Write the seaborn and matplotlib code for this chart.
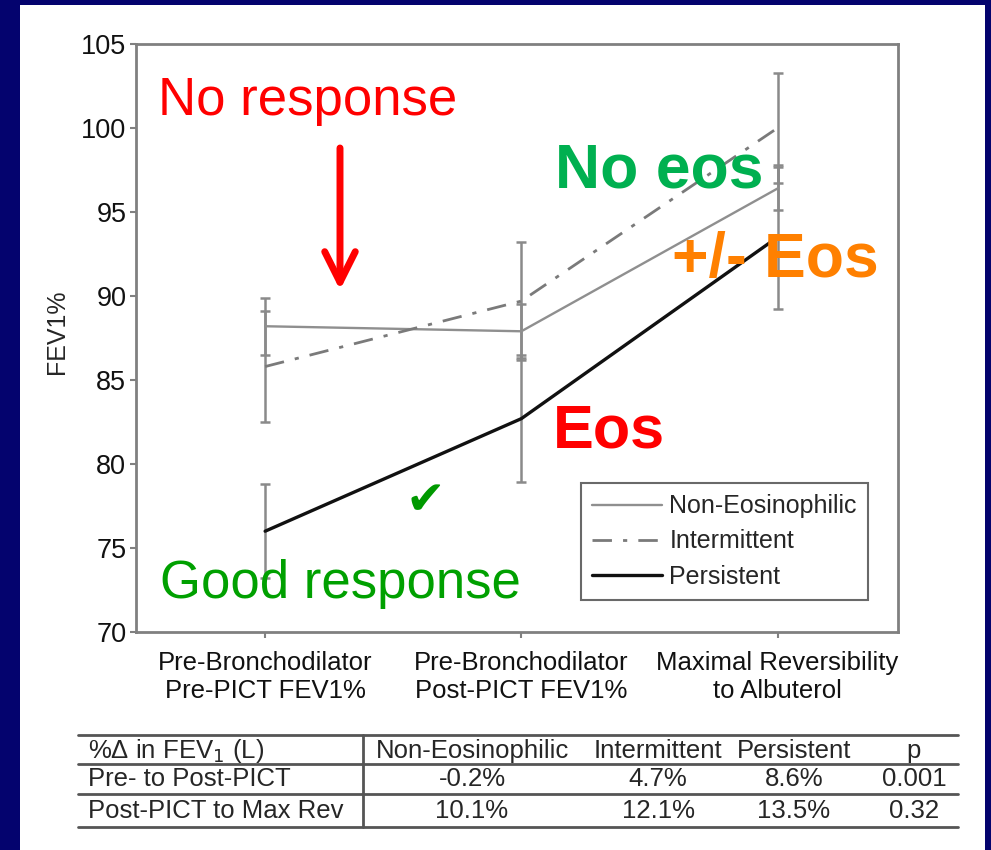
import numpy as np
import pandas as pd
import matplotlib
matplotlib.use("Agg")
import matplotlib.pyplot as plt
from matplotlib.lines import Line2D
from matplotlib.patches import Rectangle
import seaborn as sns

# chart data
categories = ["Pre-Bronchodilator\nPre-PICT FEV1%",
              "Pre-Bronchodilator\nPost-PICT FEV1%",
              "Maximal Reversibility\nto Albuterol"]
groups = ["Non-Eosinophilic", "Intermittent", "Persistent"]
non_eos_mean = [88.2, 87.9, 96.4]
non_eos_err = [1.7, 1.6, 1.3]
intermittent_mean = [85.8, 89.7, 100.0]
intermittent_err = [3.3, 3.5, 3.3]
persistent_mean = [76.0, 82.7, 93.5]
persistent_err = [2.8, 3.8, 4.3]
y_ticks = [70, 75, 80, 85, 90, 95, 100, 105]

# table under the chart
table_header = ["%Δ in FEV$_1$ (L)", "Non-Eosinophilic", "Intermittent", "Persistent", "p"]
table_row_labels = ["Pre- to Post-PICT", "Post-PICT to Max Rev"]
table_non_eos = ["-0.2%", "10.1%"]
table_intermittent = ["4.7%", "12.1%"]
table_persistent = ["8.6%", "13.5%"]
table_p = ["0.001", "0.32"]

W, H = 991, 850


def px(x, y):
    """pixel position -> figure fraction"""
    return x / W, 1 - y / H


sns.set_style("white")
plt.rcParams['font.family'] = ['Liberation Sans', 'DejaVu Sans']

df = pd.DataFrame({
    'pos': list(range(3)) * 3,
    'fev1': non_eos_mean + intermittent_mean + persistent_mean,
    'err': non_eos_err + intermittent_err + persistent_err,
    'group': [g for g in groups for _ in range(3)],
})

fig = plt.figure(figsize=(W / 100, H / 100), dpi=100, facecolor='#04036e')
fig.patches.append(Rectangle(px(20, 850), (985 - 20) / W, (850 - 5) / H,
                             transform=fig.transFigure, facecolor='white',
                             edgecolor='none', zorder=-5))

ax = fig.add_axes([136 / W, 1 - 632 / H, (898 - 136) / W, (632 - 44) / H])
ax.set_zorder(2)
ax.set_facecolor('white')

# error bars first so lines sit on top
for g in groups:
    sub = df[df['group'] == g]
    ax.errorbar(sub['pos'], sub['fev1'], yerr=sub['err'], fmt='none',
                ecolor='#8a8a8a', elinewidth=1.8, capsize=3.3, capthick=1.8, zorder=2)

palette = {"Non-Eosinophilic": "#8f8f8f", "Intermittent": "#7a7a7a", "Persistent": "#111111"}
dashes = {"Non-Eosinophilic": "", "Intermittent": (7, 4, 1.5, 4), "Persistent": ""}
sizes = {"Non-Eosinophilic": 1.7, "Intermittent": 2.0, "Persistent": 2.4}
sns.lineplot(data=df, x='pos', y='fev1', hue='group', style='group', size='group',
             palette=palette, dashes=dashes, sizes=sizes, hue_order=groups,
             style_order=groups, size_order=groups, ax=ax, zorder=3)

sns.move_legend(ax, 'lower right', bbox_to_anchor=((868 - 136) / 762, (632 - 600) / 588),
                title=None, fontsize=18, frameon=True, fancybox=False,
                edgecolor='#444444', handlelength=2.8, handletextpad=0.3,
                labelspacing=0.45, borderpad=0.45, borderaxespad=0)
ax.get_legend().get_frame().set_linewidth(1.5)

ax.set_xlim(-0.504, 2.47)
ax.set_ylim(70, 105)
ax.set_xticks(range(3))
ax.set_xticklabels(categories, fontsize=18.5, linespacing=1.2)
ax.set_yticks(y_ticks)
ax.set_yticklabels([str(t) for t in y_ticks], fontsize=19.5)
ax.set_xlabel('')
ax.set_ylabel('FEV1%', fontsize=18)
ax.yaxis.set_label_coords(-0.088, 0.51)
ax.tick_params(axis='both', bottom=True, left=True, direction='out', length=4,
               width=1.5, color='#808080', labelcolor='#111111')
ax.tick_params(axis='x', pad=10)
ax.tick_params(axis='y', pad=3)
for s in ax.spines.values():
    s.set_color('#808080')
    s.set_linewidth(2)

# slide annotations
fig.text(*px(158, 115), "No response", fontsize=38, color='#ff0000', ha='left', va='baseline', zorder=5)
fig.text(*px(160, 598), "Good response", fontsize=38, color='#00a000', ha='left', va='baseline', zorder=5)
fig.text(*px(555, 187), "No eos", fontsize=45, color='#00b050', fontweight='bold',
         ha='left', va='baseline', zorder=5)
fig.text(*px(672, 277), "+/- Eos", fontsize=45, color='#ff8000', fontweight='bold',
         ha='left', va='baseline', zorder=5)
fig.text(*px(553, 447), "Eos", fontsize=44, color='#ff0000', fontweight='bold',
         ha='left', va='baseline', zorder=5)
fig.text(*px(425, 502), "✔", fontsize=34, color='#009900', ha='center', va='center',
         family=['DejaVu Sans'], zorder=5)
ax.annotate('', xy=px(340, 290), xytext=px(340, 148), xycoords='figure fraction',
            textcoords='figure fraction', annotation_clip=False,
            arrowprops=dict(arrowstyle='->,head_length=1.1,head_width=0.55',
                            mutation_scale=20, lw=5, color='#ff0000',
                            shrinkA=0, shrinkB=0, capstyle='round'))

# table
line_kw = dict(color='#555555', linewidth=2, transform=fig.transFigure)
for yy in [735, 764, 794, 827]:
    x0, y0 = px(78, yy)
    x1, _ = px(958, yy)
    fig.add_artist(Line2D([x0, x1], [y0, y0], **line_kw))
fig.add_artist(Line2D([363 / W, 363 / W], [1 - 735 / H, 1 - 827 / H], **line_kw))

col_x = [88, 472, 658, 794, 914]
row_y = [751, 779, 811]
fs_tab = 18.5
fig.text(*px(col_x[0], row_y[0]), table_header[0], fontsize=fs_tab, ha='left', va='center')
for cx, txt in zip(col_x[1:], table_header[1:]):
    fig.text(*px(cx, row_y[0]), txt, fontsize=fs_tab, ha='center', va='center')
for i in range(2):
    fig.text(*px(col_x[0], row_y[i + 1]), table_row_labels[i], fontsize=fs_tab, ha='left', va='center')
    for cx, col in zip(col_x[1:], [table_non_eos, table_intermittent, table_persistent, table_p]):
        fig.text(*px(cx, row_y[i + 1]), col[i], fontsize=fs_tab, ha='center', va='center')

fig.savefig('out.png', dpi=100, facecolor=fig.get_facecolor())
